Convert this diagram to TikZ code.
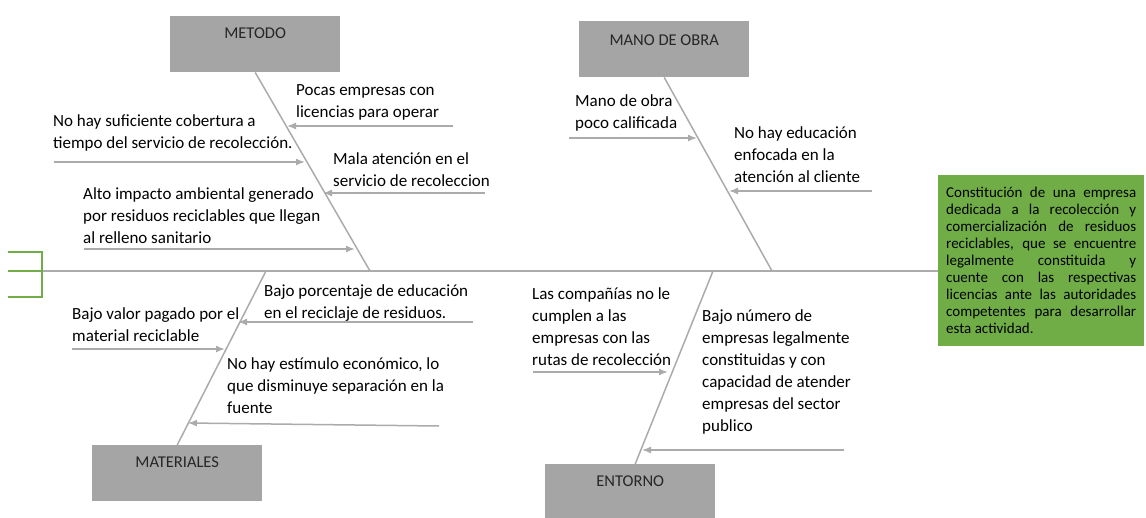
\documentclass[tikz,border=0pt]{standalone}
\usepackage{fontspec}
\setmainfont{Carlito}
\usetikzlibrary{arrows.meta}

\definecolor{boxgray}{HTML}{A5A5A5}
\definecolor{linegray}{HTML}{ABABAB}
\definecolor{goalgreen}{HTML}{70AD47}

\tikzset{
  catbox/.style={fill=boxgray, anchor=north west, minimum width=170pt,
    inner ysep=10pt, text height=12pt, text depth=24pt,
    font=\fontsize{16.5}{20}\selectfont, text=black!85},
  bone/.style={draw=linegray, line width=1.5pt},
  cause/.style={draw=linegray, line width=1.5pt, -{Latex[length=9pt,width=7pt]}},
  causetext/.style={anchor=north west, align=left, inner sep=0pt,
    font=\fontsize{17}{22}\selectfont, execute at begin node=\strut},
  goalbox/.style={fill=goalgreen, anchor=north west, minimum height=171pt,
    inner xsep=8pt, align=left, font=\fontsize{15}{17}\selectfont},
  bracket/.style={draw=goalgreen, line width=1.5pt}
}
\newcommand{\jline}[1]{\makebox[190pt][s]{#1}}

\begin{document}
\begin{tikzpicture}[x=1pt,y=-1pt]
\useasboundingbox (0,0) rectangle (1146,517);

% Categories
\node[catbox] (metodo) at (170,16) {METODO};
\node[catbox, inner ysep=12pt, text depth=20pt] (mano) at (579,21) {MANO DE OBRA};
\node[catbox] (materiales) at (92,445) {MATERIALES};
\node[catbox] (entorno) at (545,464) {ENTORNO};

% Goal
\node[goalbox] (goal) at (938,175) {%
\jline{Constitución de una empresa}\\
\jline{dedicada a la recolección y}\\
\jline{comercialización de residuos}\\
\jline{reciclables, que se encuentre}\\
\jline{legalmente constituida y}\\
\jline{cuente con las respectivas}\\
\jline{licencias ante las autoridades}\\
\jline{competentes para desarrollar}\\
esta actividad.};

% --- Spine and tail ---
\coordinate (spinestart) at (42,271);
\draw[bone] (spinestart) -- (spinestart -| goal.west);
\draw[bracket] (8,252) -- (42,252) -- (42,297) -- (8,297);
\draw[bracket] (8,271) -- (spinestart);

% --- Bones ---
\coordinate (metodoend) at (370,271);
\coordinate (manoend) at (772,271);
\coordinate (materialesend) at (266,271);
\coordinate (entornoend) at (713,271);
\draw[bone] (metodo.south) -- (metodoend);
\draw[bone] (mano.south) -- (manoend);
\draw[bone] (materiales.north) -- (materialesend);
\draw[bone] ([xshift=5pt]entorno.north) -- (entornoend);

% --- Metodo causes ---
\node[causetext] (pocas) at (296,84) {Pocas empresas con\\licencias para operar};
\coordinate (pocasT) at (453,126);
\coordinate (pocasH) at (287,126);
\draw[cause] (pocasT) -- (pocasH);

\node[causetext] (cobertura) at (53,114) {No hay suficiente cobertura a\\tiempo del servicio de recolección.};
\coordinate (coberturaT) at (54,162);
\coordinate (coberturaH) at (305,162);
\draw[cause] (coberturaT) -- (coberturaH);

\node[causetext] (atencion) at (333,152) {Mala atención en el\\servicio de recoleccion};
\coordinate (atencionT) at (485,193);
\coordinate (atencionH) at (323,193);
\draw[cause] (atencionT) -- (atencionH);

\node[causetext] (impacto) at (83,187) {Alto impacto ambiental generado\\por residuos reciclables que llegan\\al relleno sanitario};
\coordinate (impactoT) at (84,249);
\coordinate (impactoH) at (355,249);
\draw[cause] (impactoT) -- (impactoH);

% --- Mano de obra causes ---
\node[causetext] (calificada) at (575,94) {Mano de obra\\poco calificada};
\coordinate (calificadaT) at (569,138);
\coordinate (calificadaH) at (697,138);
\draw[cause] (calificadaT) -- (calificadaH);

\node[causetext] (educacion) at (734,126) {No hay educación\\enfocada en la\\atención al cliente};
\coordinate (educacionT) at (872,191);
\coordinate (educacionH) at (729,191);
\draw[cause] (educacionT) -- (educacionH);

% --- Materiales causes ---
\node[causetext] (porcentaje) at (264,284) {Bajo porcentaje de educación\\en el reciclaje de residuos.};
\coordinate (porcentajeT) at (473,322);
\coordinate (porcentajeH) at (238,322);
\draw[cause] (porcentajeT) -- (porcentajeH);

\node[causetext] (valor) at (72,307) {Bajo valor pagado por el\\material reciclable};
\coordinate (valorT) at (72,349);
\coordinate (valorH) at (225,349);
\draw[cause] (valorT) -- (valorH);

\node[causetext] (estimulo) at (227,357) {No hay estímulo económico, lo\\que disminuye separación en la\\fuente};
\coordinate (estimuloT) at (439,426);
\coordinate (estimuloH) at (188,423);
\draw[cause] (estimuloT) -- (estimuloH);

% --- Entorno causes ---
\node[causetext] (companias) at (532,287) {Las compañías no le\\cumplen a las\\empresas con las\\rutas de recolección};
\coordinate (companiasT) at (533,372);
\coordinate (companiasH) at (668,372);
\draw[cause] (companiasT) -- (companiasH);

\node[causetext] (numero) at (702,309) {Bajo número de\\empresas legalmente\\constituidas y con\\capacidad de atender\\empresas del sector\\publico};
\coordinate (numeroT) at (844,450);
\coordinate (numeroH) at (642,450);
\draw[cause] (numeroT) -- (numeroH);

\end{tikzpicture}
\end{document}
